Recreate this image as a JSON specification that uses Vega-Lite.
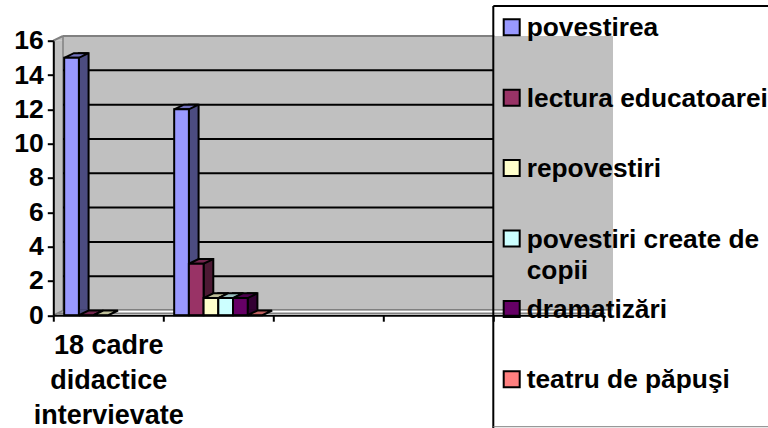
{
"$schema":"https://vega.github.io/schema/vega-lite/v6.json",
"width":550,"height":274.5,
"autosize":"none",
"padding":{"left":53.3,"top":40.7,"right":164.7,"bottom":112.8},
"background":"white",
"config":{"view":{"stroke":null}},
"datasets":{
"valori":[
{"grup":"18 cadre didactice intervievate","serie":"povestirea","valoare":15},
{"grup":"18 cadre didactice intervievate","serie":"lectura educatoarei","valoare":0},
{"grup":"18 cadre didactice intervievate","serie":"repovestiri","valoare":0},
{"grup":" ","serie":"povestirea","valoare":12},
{"grup":" ","serie":"lectura educatoarei","valoare":3},
{"grup":" ","serie":"repovestiri","valoare":1},
{"grup":" ","serie":"povestiri create de copii","valoare":1},
{"grup":" ","serie":"dramatizări","valoare":1},
{"grup":" ","serie":"teatru de păpuşi","valoare":0}
],
"legenda":[
{"serie":"povestirea","text":"povestirea"},
{"serie":"lectura educatoarei","text":"lectura educatoarei"},
{"serie":"repovestiri","text":"repovestiri"},
{"serie":"povestiri create de copii","text":"povestiri create de\ncopii"},
{"serie":"dramatizări","text":"dramatizări"},
{"serie":"teatru de păpuşi","text":"teatru de păpuşi"}
],
"unu":[{"k":1}],
"grid":[{"t":2},{"t":4},{"t":6},{"t":8},{"t":10},{"t":12},{"t":14}]
},
"resolve":{"scale":{"y":"independent","x":"independent","color":"independent"},"axis":{"y":"independent","x":"independent"}},
"layer":[
{
"resolve":{"scale":{"color":"independent","xOffset":"independent"}},
"layer":[
{"data":{"name":"unu"},"mark":{"type":"rect","fill":"#c0c0c0","yOffset":-4.7,"y2Offset":-4.7},
 "encoding":{"x":{"value":9.7},"x2":{"value":559.7},"y":{"datum":16,"type":"quantitative","scale":{"domain":[0,16],"nice":false},
   "axis":{"title":null,"values":[0,2,4,6,8,10,12,14,16],"tickCount":9,"grid":false,"zindex":1,"labelOverlap":false,"domainColor":"#000000","domainWidth":2,"tickColor":"#000000","tickWidth":2,"tickSize":6,"labelFont":"Liberation Sans","labelFontWeight":"bold","labelFontSize":26.5,"labelColor":"#000000","labelPadding":4}},"y2":{"datum":0}}},
{"data":{"name":"unu"},"mark":{"type":"rect","fill":"#c0c0c0"},
 "encoding":{"x":{"value":0},"x2":{"value":9.7},"y":{"datum":16,"type":"quantitative"},"y2":{"datum":0}}},
{"data":{"name":"unu"},"mark":{"type":"point","shape":"M0,0L9.7,0L9.7,-4.7Z","size":4,"filled":true,"fill":"#c0c0c0","opacity":1,"strokeWidth":0},
 "encoding":{"x":{"value":0},"y":{"datum":16,"type":"quantitative"}}},
{"data":{"name":"unu"},"mark":{"type":"rule","stroke":"#808080","strokeWidth":2},
 "encoding":{"x":{"value":0},"x2":{"value":9.7},"y":{"datum":16,"type":"quantitative"},"y2":{"value":-4.7}}},
{"data":{"name":"unu"},"mark":{"type":"rule","stroke":"#808080","strokeWidth":2,"yOffset":-4.7},
 "encoding":{"x":{"value":9.7},"x2":{"value":441},"y":{"datum":16,"type":"quantitative"}}},
{"data":{"name":"unu"},"mark":{"type":"rule","stroke":"#808080","strokeWidth":1.5,"yOffset":-4.7,"y2Offset":-4.7},
 "encoding":{"x":{"value":9.7},"y":{"datum":16,"type":"quantitative"},"y2":{"datum":0}}},
{"data":{"name":"grid"},"mark":{"type":"rule","stroke":"#000000","strokeWidth":2,"yOffset":-4.7},
 "encoding":{"x":{"value":9.7},"x2":{"value":440},"y":{"field":"t","type":"quantitative"}}},
{"data":{"name":"unu"},"mark":{"type":"rule","stroke":"#808080","strokeWidth":1.5,"yOffset":-5.5},
 "encoding":{"x":{"value":9.7},"x2":{"value":557},"y":{"datum":0,"type":"quantitative"}}},
{"data":{"name":"unu"},"mark":{"type":"rule","stroke":"#808080","strokeWidth":1.5,"yOffset":-2},
 "encoding":{"x":{"value":5},"x2":{"value":552},"y":{"datum":0,"type":"quantitative"}}},
{"data":{"name":"unu"},"mark":{"type":"point","shape":"M0,0L9.7,-4.7","size":4,"filled":false,"opacity":1,"stroke":"#808080","strokeWidth":1.5},
 "encoding":{"x":{"value":0},"y":{"datum":0,"type":"quantitative"}}},

{"data":{"name":"valori"},"transform":[{"filter":"datum.valoare>0"}],
 "mark":{"type":"bar","width":9.7,"stroke":"#000000","strokeWidth":2,"yOffset":-4.7,"y2Offset":-4.7},
 "encoding":{
  "x":{"field":"grup","type":"nominal","sort":null,
   "scale":{"domain":["18 cadre didactice intervievate"," ","  ","   ","    "],"paddingInner":0,"paddingOuter":0},
   "axis":{"title":null,"tickBand":"extent","zindex":1,"domainColor":"#000000","domainWidth":2,"tickColor":"#000000","tickWidth":2,"tickSize":6,"labelAngle":0,"labelAlign":"center","labelFont":"Liberation Sans","labelFontWeight":"bold","labelFontSize":27,"labelColor":"#000000","labelLimit":0,"labelPadding":24,"labelLineHeight":35,"labelBaseline":"middle","labelOverlap":false,"labelExpr":"datum.value === '18 cadre didactice intervievate' ? ['18 cadre','didactice','intervievate'] : ''"}},
  "xOffset":{"field":"serie","type":"nominal","scale":{"domain":["povestirea","lectura educatoarei","repovestiri","povestiri create de copii","dramatizări","teatru de păpuşi"],"paddingInner":0,"paddingOuter":0.74,"range":[12.2,122.2]}},
  "y":{"field":"valoare","type":"quantitative"},"y2":{"datum":0},
  "color":{"field":"serie","type":"nominal","legend":null,"scale":{"domain":["povestirea","lectura educatoarei","repovestiri","povestiri create de copii","dramatizări","teatru de păpuşi"],"range":["#4c4c80","#4c1933","#808066","#668080","#330033","#804040"]}}
 }},

{"data":{"name":"valori"},"transform":[{"filter":"datum.valoare>0"}],
 "mark":{"type":"point","shape":"M7.35,0.5L17.4,-4.7L16,-6L7.35,-6Z","size":4,"filled":true,"opacity":1,"strokeWidth":0},
 "encoding":{
  "x":{"field":"grup","type":"nominal"},
  "xOffset":{"field":"serie","type":"nominal","scale":{"type":"band","domain":["povestirea","lectura educatoarei","repovestiri","povestiri create de copii","dramatizări","teatru de păpuşi"],"paddingInner":0,"paddingOuter":0.74}},
  "y":{"datum":0,"type":"quantitative"},
  "color":{"field":"serie","type":"nominal","legend":null,"scale":{"domain":["povestirea","lectura educatoarei","repovestiri","povestiri create de copii","dramatizări","teatru de păpuşi"],"range":["#4c4c80","#4c1933","#808066","#668080","#330033","#804040"]}}
 }},

{"data":{"name":"valori"},
 "mark":{"type":"point","shape":"M-7.35,0L7.35,0L17.05,-4.7L2.35,-4.7Z","size":4,"filled":true,"opacity":1,"stroke":"#000000","strokeWidth":2},
 "encoding":{
  "x":{"field":"grup","type":"nominal"},
  "xOffset":{"field":"serie","type":"nominal","scale":{"type":"band","domain":["povestirea","lectura educatoarei","repovestiri","povestiri create de copii","dramatizări","teatru de păpuşi"],"paddingInner":0,"paddingOuter":0.74}},
  "y":{"field":"valoare","type":"quantitative"},
  "color":{"field":"serie","type":"nominal","legend":null,"scale":{"domain":["povestirea","lectura educatoarei","repovestiri","povestiri create de copii","dramatizări","teatru de păpuşi"],"range":["#7373bf","#73264d","#bfbf99","#99bfbf","#4c004c","#bf6060"]}}
 }},

{"data":{"name":"valori"},"transform":[{"filter":"datum.valoare>0"}],
 "mark":{"type":"bar","stroke":"#000000","strokeWidth":2},
 "encoding":{
  "x":{"field":"grup","type":"nominal"},
  "xOffset":{"field":"serie","type":"nominal","scale":{"domain":["povestirea","lectura educatoarei","repovestiri","povestiri create de copii","dramatizări","teatru de păpuşi"],"paddingInner":0,"paddingOuter":0.74}},
  "y":{"field":"valoare","type":"quantitative"},
  "y2":{"datum":0},
  "color":{"field":"serie","type":"nominal","legend":null,"scale":{"domain":["povestirea","lectura educatoarei","repovestiri","povestiri create de copii","dramatizări","teatru de păpuşi"],"range":["#9999ff","#993366","#ffffcc","#ccffff","#660066","#ff8080"]}}
 }}
]},
{
"resolve":{"scale":{"color":"shared"}},
"layer":[
{"data":{"name":"legenda"},"mark":{"type":"point","shape":"square","filled":true,"opacity":1,"stroke":"#000000","strokeWidth":2,"size":256},
 "encoding":{
  "x":{"value":458.4},
  "y":{"field":"serie","type":"nominal","axis":null,"sort":null,"scale":{"type":"point","padding":0,"domain":["povestirea","lectura educatoarei","repovestiri","povestiri create de copii","dramatizări","teatru de păpuşi"],"range":[-13.4,338.6]}},
  "color":{"field":"serie","type":"nominal","legend":null,"scale":{"domain":["povestirea","lectura educatoarei","repovestiri","povestiri create de copii","dramatizări","teatru de păpuşi"],"range":["#9999ff","#993366","#ffffcc","#ccffff","#660066","#ff8080"]}}
 }},
{"data":{"name":"legenda"},"mark":{"type":"text","align":"left","baseline":"alphabetic","lineBreak":"\n","lineHeight":31,"yOffset":9,"font":"Liberation Sans","fontWeight":"bold","fontSize":26.3,"fill":"#000000"},
 "encoding":{
  "x":{"value":473.4},
  "y":{"field":"serie","type":"nominal","axis":null,"sort":null},
  "text":{"field":"text","type":"nominal"}
 }},
{"data":{"name":"unu"},"mark":{"type":"rule","stroke":"#000000","strokeWidth":2},
 "encoding":{"x":{"value":440},"y":{"value":-34.7},"y2":{"value":388}}},
{"data":{"name":"unu"},"mark":{"type":"rule","stroke":"#000000","strokeWidth":2},
 "encoding":{"x":{"value":440},"x2":{"value":720},"y":{"value":-34.7}}},
{"data":{"name":"unu"},"mark":{"type":"rule","stroke":"#808080","strokeWidth":1},
 "encoding":{"x":{"value":440},"x2":{"value":720},"y":{"value":386}}}
]}
]
}
